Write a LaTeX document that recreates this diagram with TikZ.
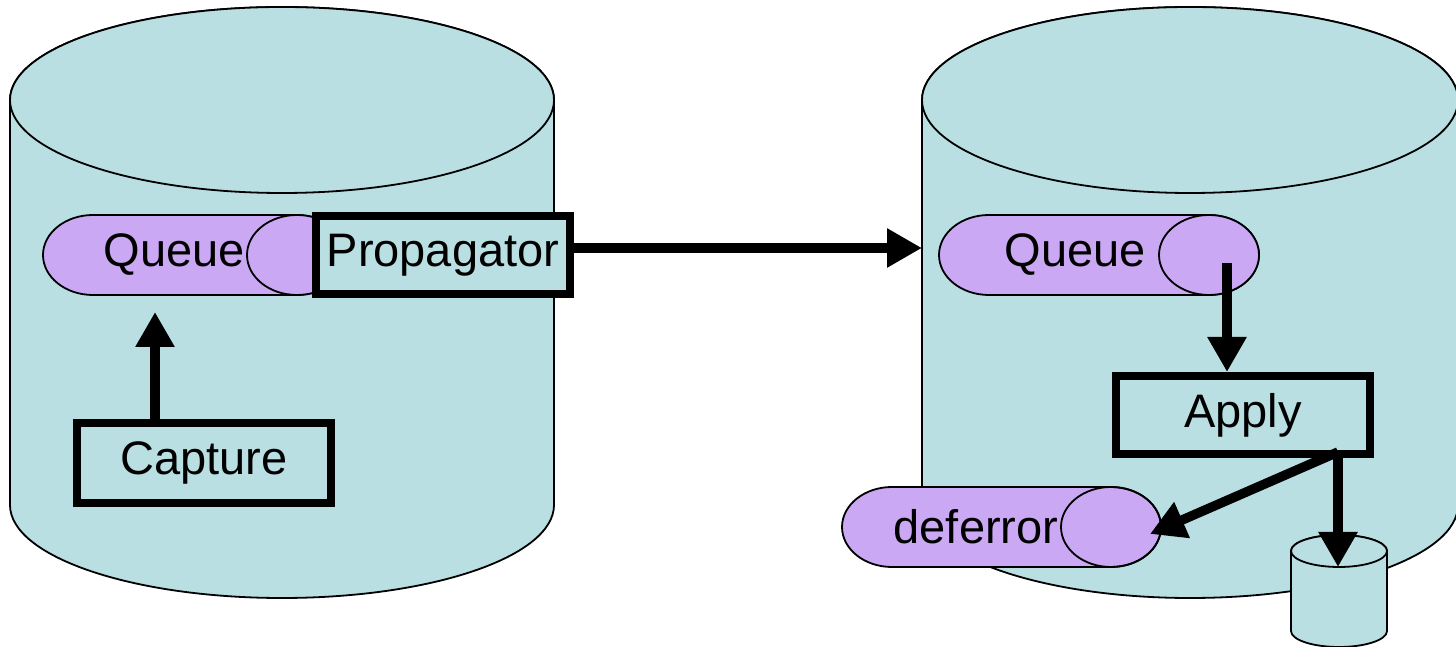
\documentclass[tikz,border=0pt]{standalone}
\usepackage{fontspec}
\setmainfont{Liberation Sans}
\usetikzlibrary{arrows.meta}
\definecolor{cyl}{RGB}{185,223,226}
\definecolor{pill}{RGB}{203,168,243}
\tikzset{
  outl/.style={draw=black, line width=1.8pt, fill=cyl},
  pillst/.style={draw=black, line width=1.8pt, fill=pill},
  procbox/.style={draw=black, line width=8pt, fill=cyl, inner sep=0pt, minimum width=254pt, font=\fontsize{47}{56}\selectfont},
  lbl/.style={inner sep=0pt, font=\fontsize{47}{56}\selectfont},
  flow/.style={line width=9.5pt, -{Triangle[length=35pt,width=37pt]}},
}
\begin{document}
\begin{tikzpicture}[x=1pt,y=1pt]
\useasboundingbox (0,0) rectangle (1456,647);
% left cylinder
\path[outl] (10,547) -- (10,142) arc[start angle=180,end angle=360,x radius=272pt,y radius=93pt] -- (554,547) arc[start angle=0,end angle=180,x radius=272pt,y radius=93pt] -- cycle;
\path[outl] (282,547) ellipse[x radius=272pt,y radius=93pt];
% right cylinder
\path[outl] (922,547) -- (922,142) arc[start angle=180,end angle=360,x radius=268pt,y radius=93pt] -- (1458,547) arc[start angle=0,end angle=180,x radius=268pt,y radius=93pt] -- cycle;
\path[outl] (1190,547) ellipse[x radius=268pt,y radius=93pt];
% left queue
\path[pillst] (93,432) -- (297,432) arc[start angle=90,end angle=-90,x radius=50pt,y radius=40pt] -- (93,352) arc[start angle=270,end angle=90,x radius=50pt,y radius=40pt] -- cycle;
\path[pillst] (297,392) ellipse[x radius=50pt,y radius=40pt];
\node[lbl] (q1) at (174,392) {Queue};
% right queue
\path[pillst] (989,432) -- (1209,432) arc[start angle=90,end angle=-90,x radius=50pt,y radius=40pt] -- (989,352) arc[start angle=270,end angle=90,x radius=50pt,y radius=40pt] -- cycle;
\path[pillst] (1209,392) ellipse[x radius=50pt,y radius=40pt];
\node[lbl] (q2) at (1075,392) {Queue};
% boxes
\node[procbox, minimum height=78pt] (prop) at (443,392) {Propagator};
\node[procbox, minimum height=80pt] (cap) at (204,184) {Capture};
\node[procbox, minimum height=78pt] (apply) at (1243,232) {Apply};
% deferror
\path[pillst] (892,160) -- (1111,160) arc[start angle=90,end angle=-90,x radius=50pt,y radius=40pt] -- (892,80) arc[start angle=270,end angle=90,x radius=50pt,y radius=40pt] -- cycle;
\node[lbl] (def) at (976,120) {deferror};
\path[draw=black, line width=1.8pt] (1111,120) ellipse[x radius=50pt,y radius=40pt];
% small cylinder
\path[outl] (1291,96) -- (1291,16) arc[start angle=180,end angle=360,x radius=48pt,y radius=16pt] -- (1387,96) arc[start angle=0,end angle=180,x radius=48pt,y radius=16pt] -- cycle;
\path[outl] (1339,96) ellipse[x radius=48pt,y radius=16pt];
% connector points
\coordinate (q1in) at (155,335);
\coordinate (rin) at (922,399);
\coordinate (q2out) at (1227,384);
\coordinate (aout) at (1338,195);
\coordinate (defin) at (1150,113);
\coordinate (dbin) at (1338,80);
% arrows
\draw[flow] (q1in |- cap.north) -- (q1in);
\draw[flow] (prop.east |- rin) -- (rin);
\draw[flow] (q2out) -- (q2out |- apply.north);
\draw[flow] (aout) -- (defin);
\draw[flow] (aout) -- (dbin);
\end{tikzpicture}
\end{document}
